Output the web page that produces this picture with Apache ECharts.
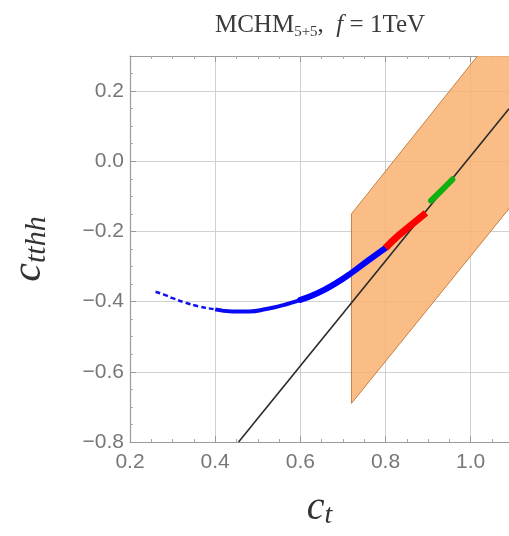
<!DOCTYPE html>
<html>
<head>
<meta charset="utf-8">
<script src="https://cdn.jsdelivr.net/npm/echarts@6/dist/echarts.min.js"></script>
<style>
html,body{margin:0;padding:0;background:#fff;}
#c{width:509px;height:536px;}
</style>
</head>
<body>
<div id="c"></div>
<script>
// ---- data ----
const xTicks = [0.2, 0.4, 0.6, 0.8, 1.0];
const yTicks = [-0.8, -0.6, -0.4, -0.2, 0.0, 0.2];

const ctBlue   = [0.26, 0.28, 0.30, 0.33, 0.36, 0.40, 0.44, 0.48, 0.52, 0.56, 0.58, 0.60, 0.64, 0.68, 0.72, 0.76, 0.80];
const cthhBlue = [-0.372, -0.380, -0.390, -0.403, -0.413, -0.422, -0.428, -0.428, -0.421, -0.410, -0.403, -0.395, -0.376, -0.350, -0.318, -0.282, -0.247];

const ctRed   = [0.80, 0.83, 0.86, 0.895];
const cthhRed = [-0.247, -0.212, -0.182, -0.147];

const ctGreen   = [0.907, 0.93, 0.957];
const cthhGreen = [-0.112, -0.085, -0.052];

const ctLine   = [0.455, 1.09];
const cthhLine = [-0.80, 0.15];

// allowed band (polygon vertices: upper edge then lower edge)
const ctBand   = [0.72, 1.20, 1.20, 0.72];
const cthhBand = [-0.15, 0.58, 0.03, -0.69];

const zip = (a, b) => a.map((v, i) => [v, b[i]]);
const fmt = v => {
  if (Math.abs(v) < 1e-9) return '0.0';
  return (v < 0 ? '\u2212' : '') + Math.abs(v).toFixed(1);
};

const chart = echarts.init(document.getElementById('c'), null, {renderer: 'canvas'});

const blueAll = zip(ctBlue, cthhBlue);

const axisCommon = {
  type: 'value',
  axisLine: {show: true, onZero: false, lineStyle: {color: '#9a9a9a', width: 1.2}},
  axisTick: {show: true, inside: true, length: 6, lineStyle: {color: '#9a9a9a'}},
  minorTick: {show: true, splitNumber: 4, length: 3, lineStyle: {color: '#aaa'}},
  splitLine: {show: true, lineStyle: {color: '#d0d0d0', width: 1}},
};

chart.setOption({
  animation: false,
  backgroundColor: '#fff',
  grid: {left: 127, right: 0, top: 56, bottom: 94, containLabel: false},
  graphic: [{
    type: 'text',
    x: 320, y: 25,
    style: {
      text: '{n|MCHM}{s|5+5}{n|,  }{i|f}{n| = 1TeV}',
      align: 'center', verticalAlign: 'middle',
      rich: {
        n: {fontFamily: 'Liberation Serif', fontSize: 25, lineHeight: 30, fill: '#3a3a3a'},
        s: {fontFamily: 'Liberation Serif', fontSize: 15, lineHeight: 16, verticalAlign: 'bottom', fill: '#3a3a3a'},
        i: {fontFamily: 'Liberation Serif', fontStyle: 'italic', fontSize: 25, lineHeight: 30, fill: '#3a3a3a'}
      }
    }
  }],
  xAxis: [
    Object.assign({}, axisCommon, {
      min: 0.2, max: 1.09, interval: 0.2, position: 'bottom',
      axisLabel: {
        margin: 10, fontSize: 21, color: '#777', fontFamily: 'Liberation Sans',
        showMaxLabel: false,
        formatter: v => xTicks.some(t => Math.abs(t - v) < 1e-6) ? fmt(v) : ''
      },
      name: '{c|c}{s|t}',
      nameLocation: 'middle', nameGap: 44,
      nameTextStyle: {
        rich: {
          c: {fontFamily: 'Liberation Serif', fontStyle: 'italic', fontSize: 40, lineHeight: 44, color: '#333'},
          s: {fontFamily: 'Liberation Serif', fontStyle: 'italic', fontSize: 28, lineHeight: 24, verticalAlign: 'bottom', color: '#333'}
        }
      }
    }),
    Object.assign({}, axisCommon, {
      min: 0.2, max: 1.09, interval: 0.2, position: 'top',
      axisLabel: {show: false}, splitLine: {show: false}
    })
  ],
  yAxis: [
    Object.assign({}, axisCommon, {
      min: -0.8, max: 0.3, interval: 0.2, position: 'left',
      axisLabel: {
        margin: 6, fontSize: 21, color: '#777', fontFamily: 'Liberation Sans',
        showMaxLabel: false,
        formatter: v => yTicks.some(t => Math.abs(t - v) < 1e-6) ? fmt(v) : ''
      },
      name: '{c|c}{s|tthh}',
      nameLocation: 'middle', nameGap: 78, nameRotate: 90,
      nameTextStyle: {
        rich: {
          c: {fontFamily: 'Liberation Serif', fontStyle: 'italic', fontSize: 42, lineHeight: 46, color: '#333'},
          s: {fontFamily: 'Liberation Serif', fontStyle: 'italic', fontSize: 30, lineHeight: 26, verticalAlign: 'bottom', color: '#333'}
        }
      }
    })
  ],
  series: [
    {
      type: 'custom',
      clip: true,
      z: 1,
      data: [0],
      renderItem: function (params, api) {
        const pts = zip(ctBand, cthhBand).map(p => api.coord(p));
        return {
          type: 'polygon',
          shape: {points: pts},
          style: {fill: 'rgba(248,178,112,0.85)', stroke: '#c48247', lineWidth: 1}
        };
      }
    },
    {
      type: 'line', z: 3, symbol: 'none', clip: true,
      data: zip(ctLine, cthhLine),
      lineStyle: {color: '#2a2a2a', width: 1.6}
    },
    {
      type: 'line', z: 4, symbol: 'none', smooth: true,
      data: blueAll.slice(0, 7),
      lineStyle: {color: '#1010f0', width: 2.5, type: [5, 3]}
    },
    {
      type: 'line', z: 4, symbol: 'none', smooth: true,
      data: blueAll.slice(5, 12),
      lineStyle: {color: '#0a0af5', width: 4}
    },
    {
      type: 'line', z: 4, symbol: 'none', smooth: true,
      data: blueAll.slice(11),
      lineStyle: {color: '#0000ff', width: 6, cap: 'round'}
    },
    {
      type: 'line', z: 5, symbol: 'none', smooth: true,
      data: zip(ctRed, cthhRed),
      lineStyle: {color: '#ff0000', width: 7}
    },
    {
      type: 'line', z: 5, symbol: 'none', smooth: true,
      data: zip(ctGreen, cthhGreen),
      lineStyle: {color: '#10b010', width: 6, cap: 'round'}
    }
  ]
});
</script>
</body>
</html>
